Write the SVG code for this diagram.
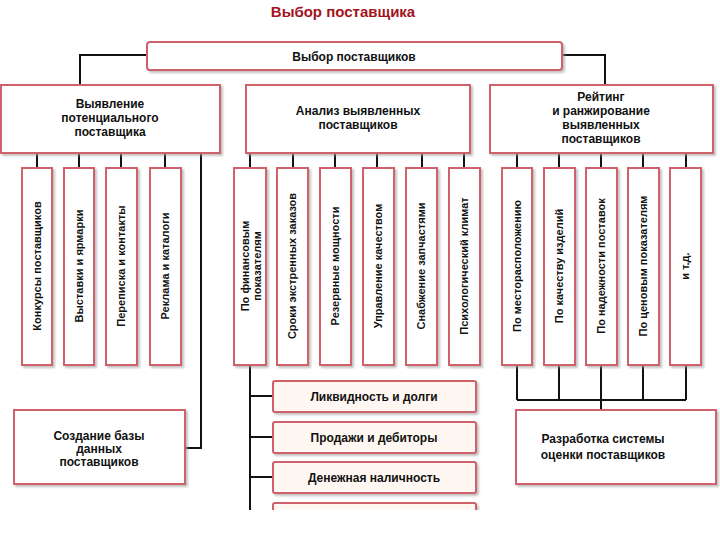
<svg xmlns="http://www.w3.org/2000/svg" width="720" height="540" viewBox="0 0 720 540">
<defs>
<filter id="sh" x="-10%" y="-10%" width="130%" height="130%"><feDropShadow dx="2" dy="2" stdDeviation="1.2" flood-color="#999" flood-opacity="0.6"/></filter>
</defs>
<style>
.b{fill:#fff;stroke:#d0606a;stroke-width:2;filter:url(#sh)}
.p{fill:#fff8f2;stroke:#d0606a;stroke-width:2;filter:url(#sh)}
.t{font-family:"Liberation Sans",Arial,sans-serif;font-weight:bold;font-size:12px;fill:#111;text-anchor:middle}
.v{font-family:"Liberation Sans",Arial,sans-serif;font-weight:bold;font-size:11px;fill:#111;text-anchor:middle}
.l{stroke:#111;stroke-width:2;fill:none}
</style>
<rect width="720" height="540" fill="#fff"/>
<text x="343" y="17" class="t" style="font-size:15px;fill:#a3141e">Выбор поставщика</text>
<g id="connectors">
<path class="l" d="M147,55H80V85M562,55H605V85"/>
<path class="l" d="M37,153V168M79,153V168M121,153V168M165,153V168"/>
<path class="l" d="M250,153V168M293,153V168M335,153V168M377,153V168M422,153V168M464,153V168"/>
<path class="l" d="M517,153V168M559,153V168M601,153V168M643,153V168M686,153V168"/>
<path class="l" d="M201,153V448H185"/>
<path class="l" d="M250,365V510M250,396H273M250,437H273M250,477H273"/>
<path class="l" d="M517,365V400M559,365V400M601,365V410M643,365V400M686,365V400M517,400H686"/>
</g>
<g id="root"><rect class="b" x="147" y="42" width="415" height="28" rx="3"/><text class="t" x="354" y="61">Выбор поставщиков</text></g>
<g id="n1"><rect class="b" x="1" y="85" width="219" height="68"/><text class="t" x="110" y="108">Выявление</text><text class="t" x="110" y="122">потенциального</text><text class="t" x="110" y="136">поставщика</text></g>
<g id="n2"><rect class="b" x="246" y="85" width="224" height="68"/><text class="t" x="358" y="115">Анализ выявленных</text><text class="t" x="358" y="129">поставщиков</text></g>
<g id="n3"><rect class="b" x="490" y="85" width="223" height="68"/><text class="t" x="601" y="101">Рейтинг</text><text class="t" x="601" y="115">и ранжирование</text><text class="t" x="601" y="129">выявленных</text><text class="t" x="601" y="143">поставщиков</text></g>
<g id="a1"><rect class="b" x="22" y="168" width="30" height="197"/><text class="v" transform="translate(41,266) rotate(-90)">Конкурсы поставщиков</text></g>
<g id="a2"><rect class="b" x="64" y="168" width="30" height="197"/><text class="v" transform="translate(83,266) rotate(-90)">Выставки и ярмарки</text></g>
<g id="a3"><rect class="b" x="106" y="168" width="31" height="197"/><text class="v" transform="translate(125,266) rotate(-90)">Переписка и контакты</text></g>
<g id="a4"><rect class="b" x="150" y="168" width="31" height="197"/><text class="v" transform="translate(169,266) rotate(-90)">Реклама и каталоги</text></g>
<g id="b1"><rect class="b" x="234" y="168" width="32" height="197"/><text class="v" transform="translate(249,266) rotate(-90)">По финансовым</text><text class="v" transform="translate(261,266) rotate(-90)">показателям</text></g>
<g id="b2"><rect class="b" x="277" y="168" width="31" height="197"/><text class="v" transform="translate(296,266) rotate(-90)">Сроки экстренных заказов</text></g>
<g id="b3"><rect class="b" x="320" y="168" width="31" height="197"/><text class="v" transform="translate(339,266) rotate(-90)">Резервные мощности</text></g>
<g id="b4"><rect class="b" x="363" y="168" width="31" height="197"/><text class="v" transform="translate(382,266) rotate(-90)">Управление качеством</text></g>
<g id="b5"><rect class="b" x="406" y="168" width="31" height="197"/><text class="v" transform="translate(425,266) rotate(-90)">Снабжение запчастями</text></g>
<g id="b6"><rect class="b" x="449" y="168" width="31" height="197"/><text class="v" transform="translate(468,266) rotate(-90)">Психологический климат</text></g>
<g id="c1"><rect class="b" x="502" y="168" width="30" height="197"/><text class="v" transform="translate(521,266) rotate(-90)">По месторасположению</text></g>
<g id="c2"><rect class="b" x="544" y="168" width="31" height="197"/><text class="v" transform="translate(563,266) rotate(-90)">По качеству изделий</text></g>
<g id="c3"><rect class="b" x="586" y="168" width="31" height="197"/><text class="v" transform="translate(605,266) rotate(-90)">По надежности поставок</text></g>
<g id="c4"><rect class="b" x="628" y="168" width="31" height="197"/><text class="v" transform="translate(647,266) rotate(-90)">По ценовым показателям</text></g>
<g id="c5"><rect class="b" x="670" y="168" width="31" height="197"/><text class="v" transform="translate(689,266) rotate(-90)">и т.д.</text></g>
<g id="d1"><rect class="p" x="273" y="381" width="203" height="31" rx="2"/><text class="t" x="374" y="401">Ликвидность и долги</text></g>
<g id="d2"><rect class="p" x="273" y="422" width="203" height="31" rx="2"/><text class="t" x="374" y="442">Продажи и дебиторы</text></g>
<g id="d3"><rect class="p" x="273" y="462" width="203" height="31" rx="2"/><text class="t" x="374" y="482">Денежная наличность</text></g>
<g id="d4"><rect class="p" x="273" y="503" width="203" height="31" rx="2"/></g>
<rect x="0" y="510" width="720" height="30" fill="#fff"/>
<g id="e1"><rect class="b" x="14" y="410" width="171" height="74"/><text class="t" x="99" y="440">Создание базы</text><text class="t" x="99" y="453">данных</text><text class="t" x="99" y="466">поставщиков</text></g>
<g id="e2"><rect class="b" x="516" y="410" width="200" height="74"/><text class="t" x="603" y="443">Разработка системы</text><text class="t" x="603" y="459">оценки поставщиков</text></g>
</svg>
